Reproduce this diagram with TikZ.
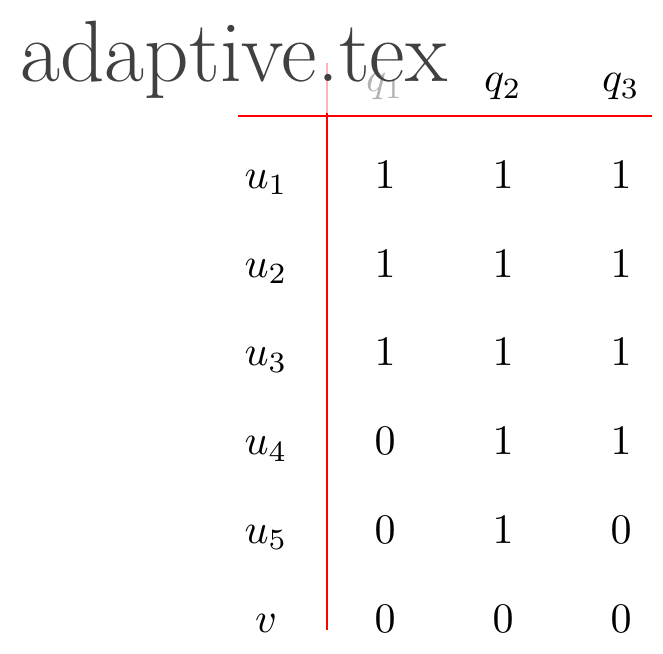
\documentclass[tikz,border=0pt]{standalone}
\begin{document}
\begin{tikzpicture}[x=0.2381pt,y=-0.2381pt,
  cell/.style={anchor=base,inner sep=0pt,font=\fontsize{10}{12}\selectfont},
  rule/.style={draw=red,line width=0.45pt},
  titlebox/.style={anchor=base west,inner sep=3.33pt,fill=white,fill opacity=0.7,text opacity=1,text=black!75,font=\huge}]
\useasboundingbox (0,0) rectangle (663,654);
% rules
\coordinate (vtop) at (327,63);
\coordinate (vbot) at (327,630);
\coordinate (hl) at (238,116);
\coordinate (hr) at (652,116);
\draw[rule] (vtop) -- (vbot);
\draw[rule] (hl) -- (hr);
% header
\node[cell] (q1) at (385,92) {$q_1$};
\node[cell] (q2) at (503,92) {$q_2$};
\node[cell] (q3) at (621,92) {$q_3$};
% rows
\node[cell] (u1) at (266,188.3) {$u_1$};
\node[cell] (a11) at (385,188.3) {$1$};
\node[cell] (a12) at (503,188.3) {$1$};
\node[cell] (a13) at (621,188.3) {$1$};
\node[cell] (u2) at (266,277.2) {$u_2$};
\node[cell] (a21) at (385,277.2) {$1$};
\node[cell] (a22) at (503,277.2) {$1$};
\node[cell] (a23) at (621,277.2) {$1$};
\node[cell] (u3) at (266,366) {$u_3$};
\node[cell] (a31) at (385,366) {$1$};
\node[cell] (a32) at (503,366) {$1$};
\node[cell] (a33) at (621,366) {$1$};
\node[cell] (u4) at (266,454.8) {$u_4$};
\node[cell] (a41) at (385,454.8) {$0$};
\node[cell] (a42) at (503,454.8) {$1$};
\node[cell] (a43) at (621,454.8) {$1$};
\node[cell] (u5) at (266,543.6) {$u_5$};
\node[cell] (a51) at (385,543.6) {$0$};
\node[cell] (a52) at (503,543.6) {$1$};
\node[cell] (a53) at (621,543.6) {$0$};
\node[cell] (v) at (266,632.4) {$v$};
\node[cell] (a61) at (385,632.4) {$0$};
\node[cell] (a62) at (503,632.4) {$0$};
\node[cell] (a63) at (621,632.4) {$0$};
% title overlay
\node[titlebox] (title) at (5.5,82) {adaptive.tex};
\end{tikzpicture}
\end{document}
